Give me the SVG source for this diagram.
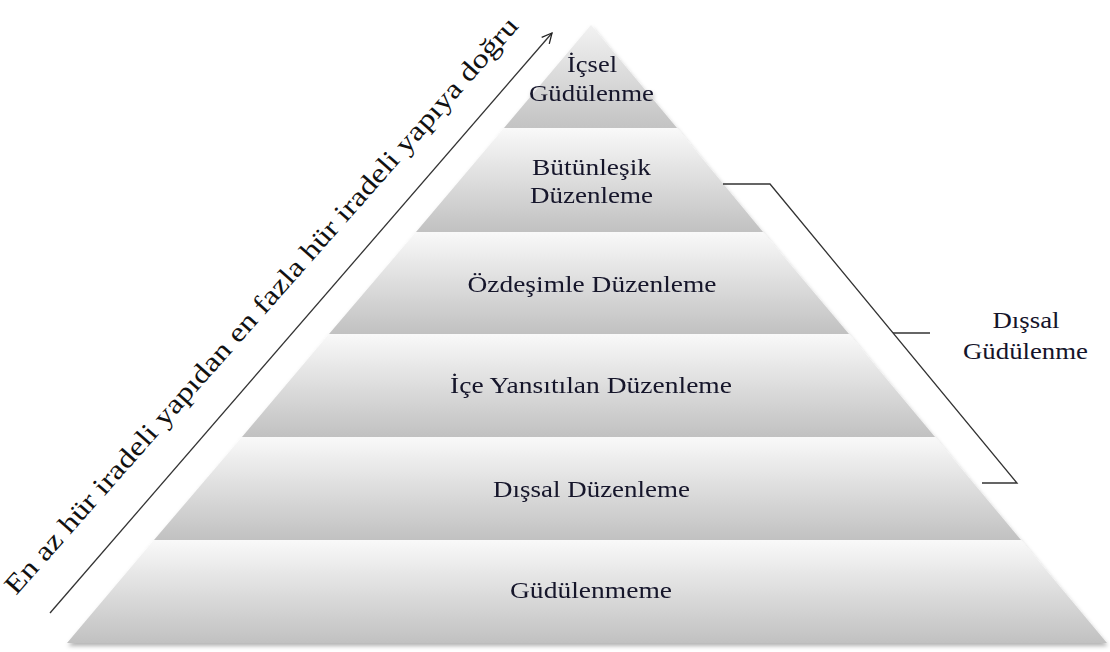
<svg xmlns="http://www.w3.org/2000/svg" width="1110" height="652" viewBox="0 0 1110 652">
  <defs>
    <linearGradient id="layerGrad" x1="0" y1="0" x2="0" y2="1">
      <stop offset="0" stop-color="#f9f9f9"/>
      <stop offset="1" stop-color="#c1c1c1"/>
    </linearGradient>
    <linearGradient id="topGrad" x1="0" y1="0" x2="0" y2="1">
      <stop offset="0" stop-color="#f2f2f2"/>
      <stop offset="1" stop-color="#c3c3c3"/>
    </linearGradient>
    <filter id="shadow" x="-5%" y="-5%" width="110%" height="110%">
      <feDropShadow dx="1" dy="3" stdDeviation="2" flood-color="#000" flood-opacity="0.3"/>
    </filter>
    <marker id="openArrow" viewBox="0 0 12 12" refX="11" refY="6" markerWidth="12" markerHeight="12" markerUnits="userSpaceOnUse" orient="auto">
      <path d="M1,1 L11,6 L1,11" fill="none" stroke="#222" stroke-width="1.3"/>
    </marker>
  </defs>
  <style>
    .lbl { font-family: "Liberation Serif", "DejaVu Serif", serif; font-size: 23px; fill: #14142a; text-anchor: middle; }
    .diag { font-family: "Liberation Serif", "DejaVu Serif", serif; font-size: 27px; fill: #111; }
    .conn { fill: none; stroke: #333; stroke-width: 1.3; }
  </style>
  <rect width="1110" height="652" fill="#ffffff"/>

  <g id="pyramid" filter="url(#shadow)">
    <g id="layer-icsel">
      <polygon points="591,25 504,128 677,128" fill="url(#topGrad)"/>
      <text class="lbl" x="592" y="72" textLength="50" lengthAdjust="spacingAndGlyphs">İçsel</text>
      <text class="lbl" x="591.5" y="101" textLength="125" lengthAdjust="spacingAndGlyphs">Güdülenme</text>
    </g>
    <g id="layer-butunlesik">
      <polygon points="504,128 677,128 763,232 416,232" fill="url(#layerGrad)"/>
      <text class="lbl" x="591.5" y="175" textLength="119" lengthAdjust="spacingAndGlyphs">Bütünleşik</text>
      <text class="lbl" x="591.5" y="203" textLength="123" lengthAdjust="spacingAndGlyphs">Düzenleme</text>
    </g>
    <g id="layer-ozdesimle">
      <polygon points="416,232 763,232 849,334 329,334" fill="url(#layerGrad)"/>
      <text class="lbl" x="592" y="292" textLength="249" lengthAdjust="spacingAndGlyphs">Özdeşimle Düzenleme</text>
    </g>
    <g id="layer-ice-yansitilan">
      <polygon points="329,334 849,334 935,437 242,437" fill="url(#layerGrad)"/>
      <text class="lbl" x="591" y="393" textLength="282" lengthAdjust="spacingAndGlyphs">İçe Yansıtılan Düzenleme</text>
    </g>
    <g id="layer-dissal-duzenleme">
      <polygon points="242,437 935,437 1021,540 154,540" fill="url(#layerGrad)"/>
      <text class="lbl" x="591.5" y="497" textLength="197" lengthAdjust="spacingAndGlyphs">Dışsal Düzenleme</text>
    </g>
    <g id="layer-gudulenmeme">
      <polygon points="154,540 1021,540 1107,643 67,643" fill="url(#layerGrad)"/>
      <text class="lbl" x="591" y="598" textLength="162" lengthAdjust="spacingAndGlyphs">Güdülenmeme</text>
    </g>
  </g>

  <g id="dissal-gudulenme-label">
    <text class="lbl" x="1026" y="328" textLength="67" lengthAdjust="spacingAndGlyphs">Dışsal</text>
    <text class="lbl" x="1025.5" y="359" textLength="125" lengthAdjust="spacingAndGlyphs">Güdülenme</text>
  </g>

  <g id="connectors">
    <polyline class="conn" points="723,184 770,184 1017,483 982,483"/>
    <line class="conn" x1="893" y1="333" x2="930" y2="333"/>
    <line class="conn" x1="50" y1="613" x2="552" y2="33" marker-end="url(#openArrow)"/>
  </g>

  <g id="direction-label">
    <text class="diag" transform="translate(16,596) rotate(-48.5)" textLength="760" lengthAdjust="spacingAndGlyphs">En az hür iradeli yapıdan en fazla hür iradeli yapıya doğru</text>
  </g>
</svg>
